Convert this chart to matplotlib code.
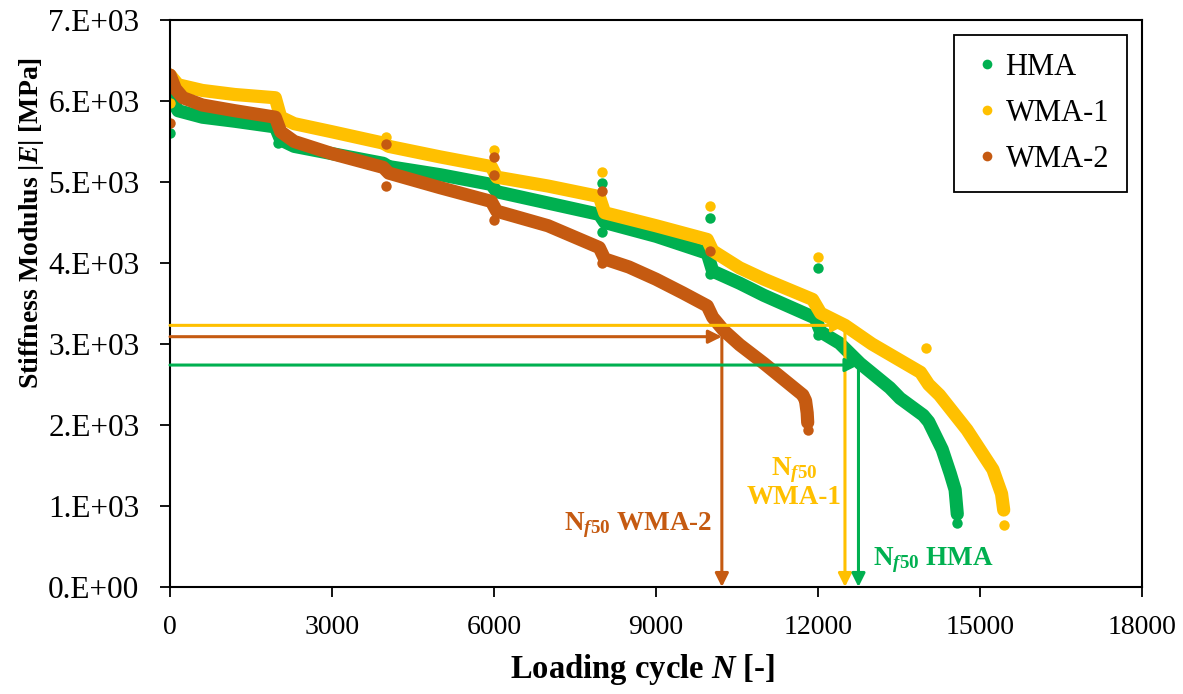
import matplotlib
matplotlib.use('Agg')
from matplotlib import pyplot as plt
from matplotlib.lines import Line2D

plt.rcParams['font.family'] = ['Liberation Serif', 'DejaVu Serif']
plt.rcParams['mathtext.fontset'] = 'custom'
plt.rcParams['mathtext.rm'] = 'Liberation Serif:bold'
plt.rcParams['mathtext.it'] = 'Liberation Serif:bold:italic'
plt.rcParams['mathtext.bf'] = 'Liberation Serif:bold'

# main curves (cycle, modulus in MPa)
hma_n = [0, 150, 600, 1200, 1950, 2050, 2300, 3000, 3950, 4050, 5000, 5950, 6050, 7000, 7950,
         8050, 9000, 9950, 10050, 10550, 11000, 11950, 12050, 12400, 12780, 13330, 13520, 13950,
         14050, 14300, 14450, 14540, 14580]
hma_e = [6050, 5880, 5800, 5750, 5680, 5520, 5440, 5350, 5230, 5190, 5090, 4970, 4880, 4740, 4600,
         4500, 4330, 4120, 3900, 3750, 3600, 3320, 3150, 3010, 2760, 2460, 2330, 2120,
         2040, 1700, 1400, 1200, 900]

wma1_n = [0, 150, 600, 1200, 1950, 2050, 2300, 3000, 3950, 4050, 5000, 5950, 6050, 7000, 7950,
          8050, 9000, 9950, 10050, 10550, 11000, 11900, 12050, 12500, 13000, 13900, 14050, 14250,
          14760, 15240, 15400, 15440]
wma1_e = [6320, 6200, 6130, 6080, 6040, 5800, 5720, 5620, 5480, 5440, 5310, 5190, 5060, 4950, 4820,
          4620, 4460, 4290, 4150, 3940, 3800, 3550, 3380, 3230, 3000, 2650, 2500, 2370,
          1940, 1450, 1150, 950]

wma2_n = [0, 100, 240, 600, 1200, 1950, 2050, 2300, 3000, 3950, 4050, 5000, 5950, 6050, 7000, 7950,
          8050, 8500, 9000, 9500, 9950, 10050, 10250, 10550, 11000, 11480, 11720, 11770, 11800, 11810]
wma2_e = [6320, 6150, 6040, 5950, 5880, 5800, 5620, 5500, 5350, 5180, 5110, 4930, 4760, 4640, 4460, 4190,
          4050, 3950, 3800, 3630, 3470, 3330, 3170, 2990, 2760, 2500, 2370, 2300, 2150, 2030]

# stray readings at the rest periods
hma_out_n = [0, 2000, 8000, 8000, 10000, 10000, 12000, 12000, 14000, 14580]
hma_out_e = [5600, 5480, 4990, 4380, 4560, 3870, 3940, 3110, 2080, 790]
wma1_out_n = [0, 4000, 6000, 8000, 10000, 12000, 14000, 15440]
wma1_out_e = [5980, 5560, 5400, 5125, 4700, 4080, 2950, 760]
wma2_out_n = [0, 4000, 4000, 6000, 6000, 6000, 8000, 8000, 10000, 11810]
wma2_out_e = [5730, 5470, 4950, 5310, 5090, 4530, 4890, 4000, 4150, 1940]

# N_f50 points (cycle, modulus)
nf50_hma = (12750, 2740)
nf50_wma1 = (12500, 3230)
nf50_wma2 = (10220, 3090)

x_ticks = [0, 3000, 6000, 9000, 12000, 15000, 18000]
y_ticks = [0, 1000, 2000, 3000, 4000, 5000, 6000, 7000]
y_ticklabels = ['0.E+00', '1.E+03', '2.E+03', '3.E+03', '4.E+03', '5.E+03', '6.E+03', '7.E+03']

green = '#00B050'
yellow = '#FFC000'
brown = '#C55A11'


def draw_series(ax, n, e, out_n, out_e, color):
    ax.plot(n, e, color=color, lw=9.5, solid_capstyle='round', solid_joinstyle='round', zorder=2)
    ax.plot(out_n, out_e, 'o', color=color, ms=7.5, mec='none', zorder=2)


def draw_nf50(ax, point, color):
    n, e = point
    props = dict(arrowstyle='-|>', color=color, lw=2.2, mutation_scale=20, shrinkA=0, shrinkB=0)
    ax.annotate('', xy=(n, e), xytext=(0, e), arrowprops=props, zorder=5)
    ax.annotate('', xy=(n, 0), xytext=(n, e), arrowprops=props, zorder=5)


def main():
    fig = plt.figure(figsize=(11.83, 6.94), dpi=100)
    ax = fig.add_axes([0.1437, 0.1542, 0.8216, 0.8170])

    draw_series(ax, hma_n, hma_e, hma_out_n, hma_out_e, green)
    draw_series(ax, wma1_n, wma1_e, wma1_out_n, wma1_out_e, yellow)
    draw_series(ax, wma2_n, wma2_e, wma2_out_n, wma2_out_e, brown)

    draw_nf50(ax, nf50_wma2, brown)
    draw_nf50(ax, nf50_wma1, yellow)
    draw_nf50(ax, nf50_hma, green)

    ax.text(10040, 760, r'N$_{\mathit{f50}}$ WMA-2', color=brown, fontsize=19.5, fontweight='bold',
            ha='right', va='center')
    ax.text(11560, 1290, 'N$_{\\mathit{f50}}$\nWMA-1', color=yellow, fontsize=19.5, fontweight='bold',
            ha='center', va='center', multialignment='center', linespacing=1.0)
    ax.text(13020, 330, r'N$_{\mathit{f50}}$ HMA', color=green, fontsize=19.5, fontweight='bold',
            ha='left', va='center')

    ax.set_xlim(0, 18000)
    ax.set_ylim(0, 7000)
    ax.set_xticks(x_ticks)
    ax.set_yticks(y_ticks)
    ax.set_yticklabels(y_ticklabels)
    ax.tick_params(direction='out', length=7, width=1.3)
    ax.tick_params(axis='x', labelsize=20, pad=13)
    ax.tick_params(axis='y', labelsize=22.5, pad=15)
    for s in ax.spines.values():
        s.set_linewidth(1.5)

    ax.set_xlabel(r'Loading cycle $\mathit{N}$ [-]', fontsize=23.5, fontweight='bold')
    ax.xaxis.set_label_coords(0.486, -0.115)
    ax.set_ylabel(r'Stiffness Modulus |$\mathit{E}$| [MPa]', fontsize=20, fontweight='bold')
    ax.yaxis.set_label_coords(-0.128, 0.642)

    handles = [Line2D([], [], marker='o', ls='none', color=c, ms=7, mec='none')
               for c in (green, yellow, brown)]
    leg = ax.legend(handles, ['HMA', 'WMA-1', 'WMA-2'], loc='upper right',
                    bbox_to_anchor=(0.985, 0.974), borderaxespad=0, fontsize=22,
                    fancybox=False, edgecolor='black', framealpha=1, handletextpad=0.1,
                    handlelength=1.0, labelspacing=0.55, borderpad=0.6)
    leg.get_frame().set_linewidth(1.3)

    fig.savefig('out.png', dpi=100)


if __name__ == '__main__':
    main()
